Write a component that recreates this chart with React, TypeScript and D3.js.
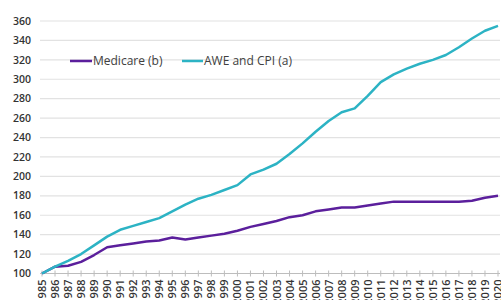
import * as d3 from "d3";

const years = d3.range(1985, 2021).map(String);

const medicare = [
  100, 107, 108, 112, 119, 127, 129, 131, 133, 134, 137, 135, 137, 139, 141,
  144, 148, 151, 154, 158, 160, 164, 166, 168, 168, 170, 172, 174, 174, 174,
  174, 174, 174, 175, 178, 180,
];

const aweCpi = [
  100, 107, 113, 120, 129, 138, 145, 149, 153, 157, 164, 171, 177, 181, 186,
  191, 202, 207, 213, 223, 234, 246, 257, 266, 270, 283, 297, 305, 311, 316,
  320, 325, 333, 342, 350, 355,
];

const yTicks = d3.range(100, 361, 20);

const series = [
  { name: "Medicare (b)", values: medicare, color: "#5b1f9c" },
  { name: "AWE and CPI (a)", values: aweCpi, color: "#2cb3c4" },
];

const width = 501;
const height = 300;
const left = 40;
const right = 500;
const top = 21;
const bottom = 273.5;

const App = () => {
  const x = d3
    .scalePoint<string>()
    .domain(years)
    .range([42, 498]);
  const y = d3.scaleLinear().domain([100, 360]).range([bottom, top]);

  const line = (vals: number[]) =>
    d3
      .line<number>()
      .x((_, i) => x(years[i]) as number)
      .y((d) => y(d))(vals);

  const font = "'Open Sans', sans-serif";

  return (
    <svg
      width={width}
      height={height}
      style={{ position: "absolute", left: 0, top: 0, background: "#fff" }}
    >
      {/* gridlines */}
      {yTicks.map((t) => (
        <g key={t}>
          <line
            x1={left}
            x2={right}
            y1={y(t)}
            y2={y(t)}
            stroke="#e2e2e2"
            strokeWidth={1.2}
          />
          <text
            x={31}
            y={y(t)}
            dy="0.35em"
            textAnchor="end"
            fontFamily={font}
            fontSize={10.5}
            fontWeight={600}
            fill="#333"
          >
            {t}
          </text>
        </g>
      ))}

      {/* x axis */}
      <line
        x1={left}
        x2={right}
        y1={bottom}
        y2={bottom}
        stroke="#bdbdbd"
        strokeWidth={1}
      />
      {years.map((yr) => (
        <g key={yr} transform={`translate(${x(yr)},0)`}>
          <line
            y1={bottom - 3}
            y2={bottom + 3}
            stroke="#bdbdbd"
            strokeWidth={1}
          />
          <text
            transform={`translate(4,${bottom + 6}) rotate(-90)`}
            textAnchor="end"
            fontFamily={font}
            fontSize={11}
            fontWeight={600}
            fill="#333"
          >
            {yr}
          </text>
        </g>
      ))}

      {/* lines */}
      {series.map((s) => (
        <path
          key={s.name}
          d={line(s.values) ?? ""}
          fill="none"
          stroke={s.color}
          strokeWidth={2.5}
          strokeLinejoin="round"
        />
      ))}

      {/* legend */}
      <g transform="translate(70,61)">
        <line x1={0} x2={22} y1={0} y2={0} stroke={series[0].color} strokeWidth={2.5} />
        <text x={23} y={0} dy="0.35em" fontFamily={font} fontSize={12} fill="#404040">
          {series[0].name}
        </text>
        <line x1={112} x2={133} y1={0} y2={0} stroke={series[1].color} strokeWidth={2.5} />
        <text x={134} y={0} dy="0.35em" fontFamily={font} fontSize={12} fill="#404040">
          {series[1].name}
        </text>
      </g>
    </svg>
  );
};

export default App;
